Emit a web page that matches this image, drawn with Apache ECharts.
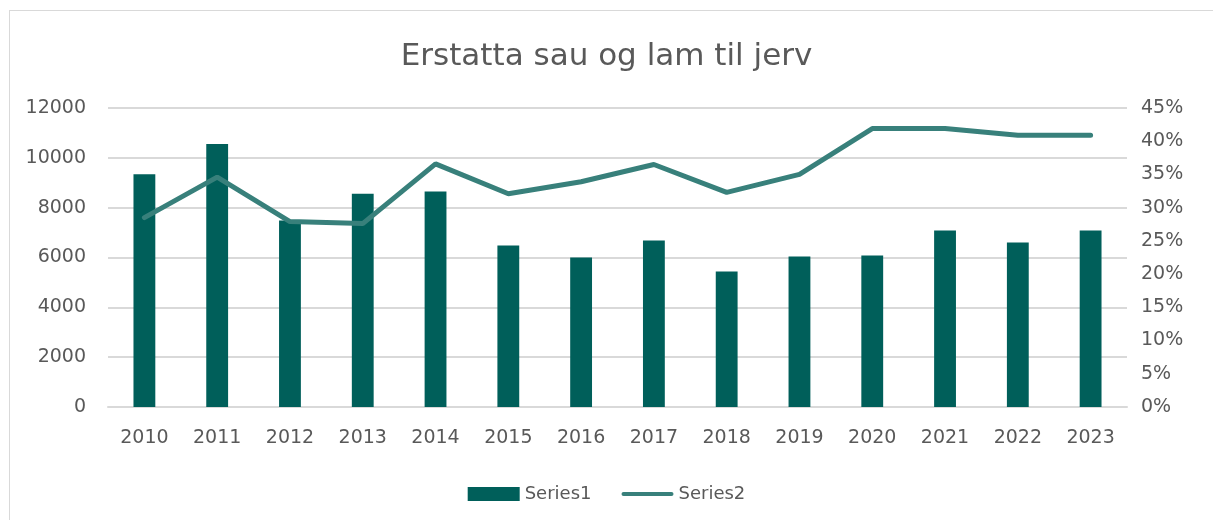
<!DOCTYPE html>
<html>
<head>
<meta charset="utf-8">
<script src="https://cdn.jsdelivr.net/npm/echarts@6/dist/echarts.min.js"></script>
<style>
  html, body { margin: 0; padding: 0; background: #fff; }
  #cht { width: 1213px; height: 520px; }
  #frame { position: absolute; left: 9px; top: 10px; width: 1220px; height: 520px; border: 1px solid #d9d9d9; box-sizing: border-box; pointer-events: none; }
</style>
</head>
<body>
<div id="cht"></div>
<div id="frame"></div>
<script>
var years = ['2010','2011','2012','2013','2014','2015','2016','2017','2018','2019','2020','2021','2022','2023'];
var series1 = [9340, 10560, 7480, 8560, 8650, 6480, 6000, 6680, 5440, 6040, 6080, 7080, 6600, 7080];
var series2 = [0.285, 0.346, 0.279, 0.276, 0.366, 0.321, 0.339, 0.365, 0.323, 0.350, 0.419, 0.419, 0.409, 0.409];

var textColor = '#595959';
var fontName = 'Tahoma, "DejaVu Sans", sans-serif';
// thin line for the legend, padded to full icon height
var lineIcon = 'path://M0,0 L0.01,0 L0.01,0.01 Z M0,14 L0.01,14 L0.01,13.99 Z M2,5 H50 A2,2 0 0 1 50,9 H2 A2,2 0 0 1 2,5 Z';

var config = {
    animation: false,
    title: {
        text: 'Erstatta sau og lam til jerv',
        left: 'center',
        top: 36,
        textStyle: { color: textColor, fontSize: 31, fontWeight: 'normal', fontFamily: fontName }
    },
    legend: {
        bottom: 12,
        left: 'center',
        itemGap: 30,
        itemWidth: 52,
        itemHeight: 14,
        textStyle: { color: textColor, fontSize: 18, fontFamily: fontName },
        data: [
            { name: 'Series1', icon: 'rect' },
            { name: 'Series2', icon: lineIcon, itemStyle: { color: '#38807b' } }
        ]
    },
    grid: { left: 108, right: 86, top: 108, bottom: 113 },
    xAxis: {
        type: 'category',
        data: years,
        axisLine: { lineStyle: { color: '#d9d9d9', width: 2 } },
        axisTick: { show: false },
        axisLabel: { color: textColor, fontSize: 19, fontFamily: fontName, margin: 22 }
    },
    yAxis: [{
        type: 'value',
        min: 0, max: 12000, interval: 2000,
        axisLine: { show: false },
        axisTick: { show: false },
        splitLine: { lineStyle: { color: '#d9d9d9', width: 2 } },
        axisLabel: {
            color: textColor, fontSize: 19, fontFamily: fontName, margin: 22,
            formatter: function (v) { return String(v); }
        }
    }, {
        type: 'value',
        min: 0, max: 0.45, interval: 0.05,
        axisLine: { show: false },
        axisTick: { show: false },
        splitLine: { show: false },
        axisLabel: {
            color: textColor, fontSize: 19, fontFamily: fontName, margin: 14,
            formatter: function (v) { return Math.round(v * 100) + '%'; }
        }
    }],
    series: [{
        name: 'Series1',
        type: 'bar',
        data: series1,
        barWidth: '30%',
        itemStyle: { color: '#005f5a' }
    }, {
        name: 'Series2',
        type: 'line',
        yAxisIndex: 1,
        data: series2,
        symbol: 'none',
        lineStyle: { color: '#38807b', width: 5, cap: 'round' },
        itemStyle: { color: '#38807b' }
    }]
};

window.onload = function () {
    var myChart = echarts.init(document.getElementById('cht'));
    myChart.setOption(config);
};
</script>
</body>
</html>
